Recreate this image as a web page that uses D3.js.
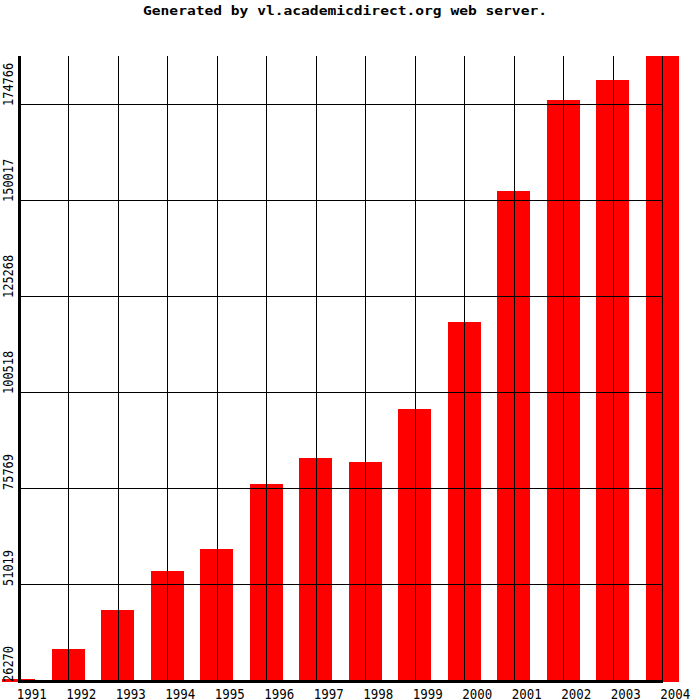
<!DOCTYPE html>
<html><head><meta charset="utf-8">
<script src="https://cdn.jsdelivr.net/npm/d3@7"></script>
<style>body{margin:0;background:#fff}</style>
</head><body>
<svg id="c" width="700" height="700"></svg>
<script>
const years = ["1991","1992","1993","1994","1995","1996","1997","1998","1999","2000","2001","2002","2003","2004"];
const values = [26270,34262,44316,54370,60042,76799,83502,82470,96134,118562,152334,175794,180950,187141];
const tickValues = [26270,51019,75769,100518,125268,150017,174766];
const yMin = 26270, yMax = 187141;
const title = "Generated by vl.academicdirect.org web server.";

const svg = d3.select("#c");
const x = d3.scalePoint().domain(years).range([18.8, 662.3]);
const y = d3.scaleLinear().domain([yMin, yMax]).range([680, 56]);
const barW = 33;

svg.append("text").attr("x", 345).attr("y", 15).attr("text-anchor","middle")
  .attr("font-family","DejaVu Sans Mono").attr("font-weight","bold").attr("font-size",13)
  .attr("textLength",404).attr("lengthAdjust","spacingAndGlyphs").text(title);

// bars
svg.append("g").selectAll("rect").data(years).join("rect")
  .attr("x", d => x(d) - barW/2)
  .attr("width", barW)
  .attr("y", (d,i) => Math.min(y(values[i]), 679))
  .attr("height", (d,i) => Math.max(682 - y(values[i]), 3))
  .attr("fill", "#ff0000")
  .attr("shape-rendering","crispEdges");

// horizontal grid
svg.append("g").selectAll("line").data(tickValues.slice(1)).join("line")
  .attr("x1", x(years[0])).attr("x2", x(years[years.length-1]))
  .attr("y1", d => Math.round(y(d)) + 0.5).attr("y2", d => Math.round(y(d)) + 0.5)
  .attr("stroke","#000").attr("stroke-width",1).attr("shape-rendering","crispEdges");

// vertical grid
svg.append("g").selectAll("line").data(years.slice(1)).join("line")
  .attr("x1", d => Math.round(x(d)) + 0.5).attr("x2", d => Math.round(x(d)) + 0.5)
  .attr("y1", y(yMax)).attr("y2", y(yMin))
  .attr("stroke","#000").attr("stroke-width",1).attr("shape-rendering","crispEdges");

// axes (thick)
svg.append("line").attr("x1", 19).attr("x2", 19).attr("y1", y(yMax)).attr("y2", 683)
  .attr("stroke","#000").attr("stroke-width",3).attr("shape-rendering","crispEdges");
svg.append("line").attr("x1", 17.5).attr("x2", Math.round(x(years[years.length-1]))+1).attr("y1", 681.5).attr("y2", 681.5)
  .attr("stroke","#000").attr("stroke-width",3).attr("shape-rendering","crispEdges");

// x labels
svg.append("g").selectAll("text").data(years).join("text")
  .attr("x", d => x(d) - 2).attr("y", 698.5)
  .attr("font-family","DejaVu Sans Mono").attr("font-size",14)
  .attr("textLength",30).attr("lengthAdjust","spacingAndGlyphs")
  .text(d => d);

// y labels (rotated)
svg.append("g").selectAll("text").data(tickValues).join("text")
  .attr("transform", d => `translate(13,${Math.round(y(d)) + 2}) rotate(-90)`)
  .attr("font-family","DejaVu Sans Mono").attr("font-size",14)
  .attr("textLength", d => String(d).length * 7.2).attr("lengthAdjust","spacingAndGlyphs")
  .text(d => d);
</script>
</body></html>
